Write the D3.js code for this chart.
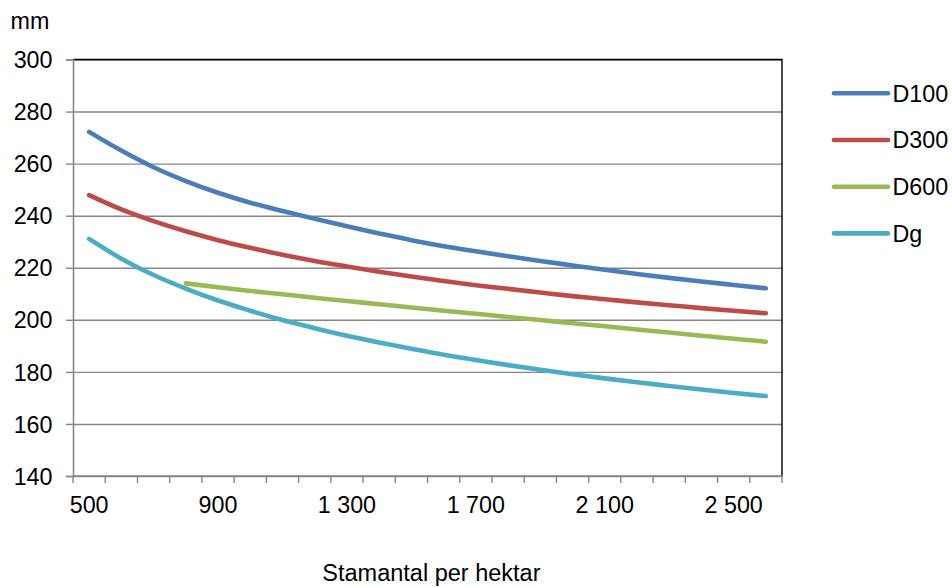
<!DOCTYPE html>
<html>
<head>
<meta charset="utf-8">
<script src="https://cdn.jsdelivr.net/npm/d3@7"></script>
<style>
  html, body { margin: 0; padding: 0; background: #fff; }
  svg { display: block; font-family: "Liberation Sans", Arial, sans-serif; }
</style>
</head>
<body>
<svg id="chart" width="952" height="587"></svg>
<script>
// Stems per hectare (category axis)
const categories = [500, 600, 700, 800, 900, 1000, 1100, 1200, 1300, 1400, 1500,
                    1600, 1700, 1800, 1900, 2000, 2100, 2200, 2300, 2400, 2500, 2600];

// Diameters in mm
const d100 = [272.2, 265.0, 258.6, 253.3, 248.8, 245.0, 241.8, 238.8, 235.9, 233.2, 230.6,
              228.3, 226.3, 224.4, 222.6, 220.9, 219.2, 217.6, 216.1, 214.7, 213.4, 212.1];
const d300 = [247.9, 242.4, 237.9, 234.0, 230.6, 227.7, 225.0, 222.6, 220.5, 218.5, 216.6,
              214.9, 213.3, 211.9, 210.5, 209.1, 207.9, 206.7, 205.6, 204.5, 203.5, 202.5];
const d600 = [null, null, null, 214.0, 212.5, 211.1, 209.8, 208.5, 207.2, 206.0, 204.7,
              203.5, 202.3, 201.1, 199.9, 198.7, 197.5, 196.3, 195.1, 193.9, 192.7, 191.6];
const dg   = [231.1, 223.5, 217.2, 212.0, 207.4, 203.5, 199.9, 196.8, 193.9, 191.3, 188.9,
              186.6, 184.6, 182.6, 180.8, 179.1, 177.5, 176.0, 174.6, 173.2, 171.9, 170.7];

const seriesNames = ["D100", "D300", "D600", "Dg"];
const seriesValues = [d100, d300, d600, dg];
const seriesColors = ["#4a7ebb", "#be4b48", "#98b954", "#4bacc6"];

const yTicks = [140, 160, 180, 200, 220, 240, 260, 280, 300];
const xLabelTicks = [500, 900, 1300, 1700, 2100, 2500];

const yUnit = "mm";
const xTitle = "Stamantal per hektar";

const plot = { left: 73, right: 782, top: 59.5, bottom: 476 };

const svg = d3.select("#chart");

const x = d3.scaleBand().domain(categories).range([plot.left, plot.right]).padding(0);
const y = d3.scaleLinear().domain([140, 300]).range([plot.bottom, plot.top]);
const cx = c => x(c) + x.bandwidth() / 2;

const locale = d3.formatLocale({ decimal: ",", thousands: " ", grouping: [3], currency: ["", ""] });
const fmt = locale.format(",d");

const fontSize = 23.3;

// Horizontal gridlines
svg.append("g")
  .attr("transform", `translate(${plot.left},0)`)
  .call(d3.axisLeft(y).tickValues(yTicks).tickSize(-(plot.right - plot.left)).tickFormat(""))
  .call(g => g.select(".domain").remove())
  .call(g => g.selectAll("line").attr("stroke", "#878787").attr("stroke-width", 1.4));

// Plot frame: top and right edges
svg.append("path")
  .attr("d", `M${plot.left},${plot.top}H${plot.right}V${plot.bottom}`)
  .attr("fill", "none").attr("stroke", "#000").attr("stroke-width", 1.4);

// Y axis
const yAxis = svg.append("g")
  .attr("transform", `translate(${plot.left},0)`)
  .call(d3.axisLeft(y).tickValues(yTicks).tickSize(7).tickPadding(0).tickFormat(d3.format("d")));
yAxis.select(".domain").attr("stroke", "#878787").attr("stroke-width", 1.6);
yAxis.selectAll("line").attr("stroke", "#878787").attr("stroke-width", 1.4);
yAxis.selectAll("text")
  .attr("x", -20.5).attr("dy", "0.35em")
  .attr("fill", "#000").attr("font-size", fontSize)
  .attr("font-family", "Liberation Sans, Arial, sans-serif");

// X axis: baseline, boundary ticks between categories, labels at category centres
const xAxis = svg.append("g").attr("transform", `translate(0,${plot.bottom})`);
xAxis.append("line")
  .attr("x1", plot.left).attr("x2", plot.right)
  .attr("stroke", "#878787").attr("stroke-width", 1.6);
const boundaries = categories.map(c => x(c)).concat([x(categories[categories.length - 1]) + x.bandwidth()]);
xAxis.selectAll("line.tick")
  .data(boundaries)
  .join("line")
  .attr("class", "tick")
  .attr("x1", d => d).attr("x2", d => d)
  .attr("y1", 0).attr("y2", 7)
  .attr("stroke", "#878787").attr("stroke-width", 1.4);
xAxis.selectAll("text")
  .data(xLabelTicks)
  .join("text")
  .attr("text-anchor", "middle")
  .attr("x", d => cx(d))
  .attr("y", 37.3)
  .attr("font-size", fontSize)
  .attr("fill", "#000")
  .text(d => fmt(d));

// Series lines
const line = d3.line()
  .defined(d => d.v != null)
  .x(d => cx(d.c))
  .y(d => y(d.v))
  .curve(d3.curveMonotoneX);

seriesValues.forEach((vals, i) => {
  const pts = categories.map((c, j) => ({ c, v: vals[j] }));
  svg.append("path")
    .datum(pts)
    .attr("d", line)
    .attr("fill", "none")
    .attr("stroke", seriesColors[i])
    .attr("stroke-width", 4.6)
    .attr("stroke-linecap", "round")
    .attr("stroke-linejoin", "round");
});

// Legend
const legend = svg.append("g");
seriesNames.forEach((name, i) => {
  const ly = 93.3 + i * 46.7;
  legend.append("line")
    .attr("x1", 834).attr("x2", 888).attr("y1", ly).attr("y2", ly)
    .attr("stroke", seriesColors[i]).attr("stroke-width", 4.6).attr("stroke-linecap", "round");
  legend.append("text")
    .attr("x", 892.5).attr("y", ly + 8.4)
    .attr("font-size", fontSize).attr("fill", "#000")
    .text(name);
});

// Unit label and axis title
svg.append("text")
  .attr("x", 10.5).attr("y", 29.3)
  .attr("font-size", fontSize).attr("fill", "#000")
  .text(yUnit);

svg.append("text")
  .attr("x", 431.4).attr("y", 581)
  .attr("text-anchor", "middle")
  .attr("font-size", 23.5).attr("fill", "#000")
  .text(xTitle);
</script>
</body>
</html>
